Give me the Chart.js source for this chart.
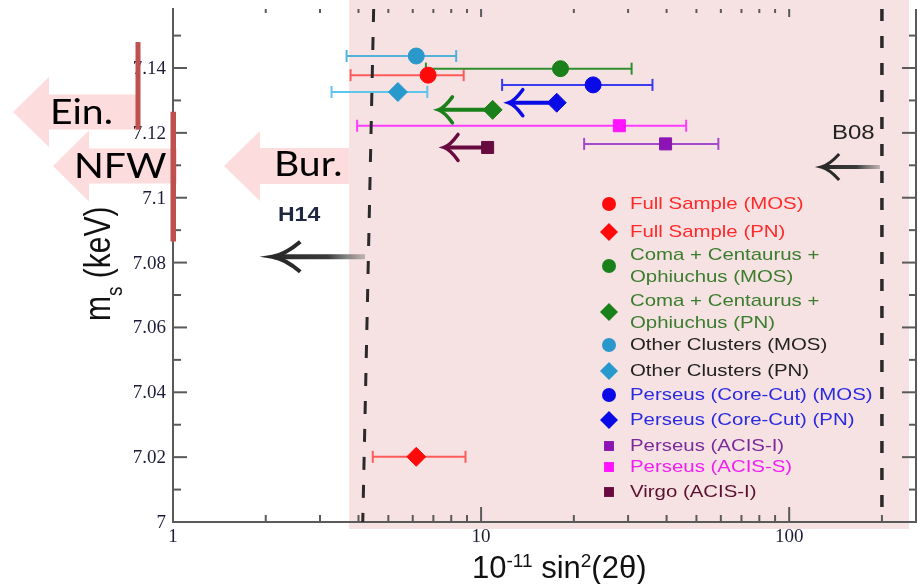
<!DOCTYPE html>
<html>
<head>
<meta charset="utf-8">
<script src="https://cdn.jsdelivr.net/npm/chart.js@4.4.1/dist/chart.umd.min.js"></script>
<style>
  html, body { margin: 0; padding: 0; background: #fff; }
  canvas { display: block; }
</style>
</head>
<body>
<canvas id="chart" width="918" height="584"></canvas>
<script>
// data
const series = [
    'Full Sample (MOS)', 'Full Sample (PN)',
    'Coma + Centaurus +\nOphiuchus (MOS)', 'Coma + Centaurus +\nOphiuchus (PN)',
    'Other Clusters (MOS)', 'Other Clusters (PN)',
    'Perseus (Core-Cut) (MOS)', 'Perseus (Core-Cut) (PN)',
    'Perseus (ACIS-I)', 'Perseus (ACIS-S)', 'Virgo (ACIS-I)'
];
const mixing     = [6.73, 6.16, 18.1, 10.9, 6.16, 5.37, 23.1, 17.6, 39.7, 28.1, 10.5];
const mixingLow  = [3.77, 4.45, 6.62, null, 3.66, 3.27, 11.7, null, 21.6, 3.96, null];
const mixingHigh = [8.78, 8.90, 30.8, null, 8.30, 6.69, 36.0, null, 58.9, 46.3, null];
const arrowTo    = [null, null, null, 7.27, null, null, null, 12.3, null, null, 7.58];
const mass       = [7.1378, 7.0201, 7.1398, 7.1271, 7.1437, 7.1326, 7.1348, 7.1293, 7.1166, 7.1222, 7.1155];

const xTickValues = [1, 10, 100];
const xTickLabels = ['1', '10', '100'];
const xMinorTicks = [2, 3, 4, 5, 6, 7, 8, 9, 20, 30, 40, 50, 60, 70, 80, 90, 200];
const yTickValues = [7, 7.02, 7.04, 7.06, 7.08, 7.1, 7.12, 7.14];
const yTickLabels = ['7', '7.02', '7.04', '7.06', '7.08', '7.1', '7.12', '7.14'];
const yMinorTicks = [7.01, 7.03, 7.05, 7.07, 7.09, 7.11, 7.13, 7.15];

const xMin = 1, xMax = 258, yMin = 7, yMax = 7.1582;
const pinkFrom = 3.73, pinkTo = 245;
const h14Line = [4.48, 4.13];          // x at top, x at bottom
const b08Line = 200;
const h14Arrow = [4.2, 2.1, 7.0818];   // from, to, mass
const b08Arrow = [197, 127, 7.1095];
const einRange = [7.121, 7.148];
const nfwRange = [7.0865, 7.1265];

// styles
const markerStyle = ['circle', 'rectRot', 'circle', 'rectRot', 'circle', 'rectRot', 'circle', 'rectRot', 'rect', 'rect', 'rect'];
const markerColor = ['#ff0a0a', '#ff0a0a', '#1a801a', '#1a801a', '#2b98cc', '#2899cc', '#0a0ae6', '#0a0ae6', '#8c14b4', '#ff14ff', '#680a40'];
const barColor    = ['#ff5a5a', '#ff5a5a', '#2e8f2e', '#2e8f2e', '#52b2dc', '#5ec4ec', '#3a3aee', '#3a3aee', '#a448cc', '#ff3cff', '#680a40'];
const textColor   = ['#ff2a2a', '#ff2a2a', '#3a7d2c', '#3a7d2c', '#222222', '#222222', '#2a2ae0', '#2a2ae0', '#7a2a9a', '#f020f0', '#5a1030'];
const markerRadius = { circle: 8, rectRot: 9.5, rect: 8.5 };
const legendRadius = { circle: 7, rectRot: 9, rect: 7 };
const legendRowY = [204, 232, 266, 312, 345, 371, 395, 420, 446, 467, 492];
const tickFont = '19px "Liberation Serif", "DejaVu Serif", serif';

function line(ctx, x0, y0, x1, y1) {
    ctx.beginPath(); ctx.moveTo(x0, y0); ctx.lineTo(x1, y1); ctx.stroke();
}

function stretchText(ctx, text, x, y, sx) {
    ctx.save();
    ctx.translate(x, y);
    ctx.scale(sx, 1);
    ctx.fillText(text, 0, 0);
    ctx.restore();
}

function drawMarker(ctx, style, x, y, r, color) {
    ctx.fillStyle = color;
    ctx.beginPath();
    if (style === 'circle') {
        ctx.arc(x, y, r, 0, Math.PI * 2);
    } else if (style === 'rectRot') {
        ctx.moveTo(x - r, y); ctx.lineTo(x, y - r); ctx.lineTo(x + r, y); ctx.lineTo(x, y + r); ctx.closePath();
    } else {
        const s = r * Math.SQRT1_2;
        ctx.rect(x - s, y - s, 2 * s, 2 * s);
    }
    ctx.fill();
}

function blockArrow(ctx, tip, mid, headBase, headHalf, bodyHalf, tail) {
    ctx.beginPath();
    ctx.moveTo(tip, mid);
    ctx.lineTo(headBase, mid - headHalf);
    ctx.lineTo(headBase, mid - bodyHalf);
    ctx.lineTo(tail, mid - bodyHalf);
    ctx.lineTo(tail, mid + bodyHalf);
    ctx.lineTo(headBase, mid + bodyHalf);
    ctx.lineTo(headBase, mid + headHalf);
    ctx.closePath();
    ctx.fill();
}

function grayArrow(ctx, x0, x1, py, head, half, width) {
    const g = ctx.createLinearGradient(x1, 0, x0, 0);
    g.addColorStop(0, '#2a2a2a');
    g.addColorStop(0.6, '#3a3a3a');
    g.addColorStop(1, 'rgba(90,90,90,0.35)');
    ctx.strokeStyle = g;
    ctx.lineWidth = width;
    line(ctx, x0, py, x1 + 2, py);
    ctx.strokeStyle = '#2a2a2a';
    ctx.lineWidth = width - 1;
    ctx.beginPath();
    ctx.moveTo(x1 + head, py - half);
    ctx.quadraticCurveTo(x1 + head * 0.45, py - 2, x1, py);
    ctx.quadraticCurveTo(x1 + head * 0.45, py + 2, x1 + head, py + half);
    ctx.stroke();
}

const overlay = {
    id: 'overlay',
    beforeDraw(chart) {
        const { ctx, chartArea: a, scales: { x } } = chart;
        ctx.save();
        ctx.fillStyle = '#ffffff';
        ctx.fillRect(0, 0, chart.width, chart.height);
        const p0 = x.getPixelForValue(pinkFrom), p1 = x.getPixelForValue(pinkTo);
        ctx.fillStyle = '#f7e2e3';
        ctx.fillRect(p0, 0, p1 - p0, a.bottom + 7);
        ctx.fillStyle = '#fcdcdc';
        blockArrow(ctx, 13, 112, 49, 35, 17.5, 138);
        blockArrow(ctx, 53, 166, 89, 35.5, 17.5, 177);
        blockArrow(ctx, 224, 166, 260, 35, 18, p0);
        ctx.restore();
    },
    beforeDatasetsDraw(chart) {
        const { ctx, chartArea: a, scales: { x, y } } = chart;
        ctx.save();
        // ticks on all sides, pointing inwards
        ctx.strokeStyle = '#5a5a5a';
        ctx.lineWidth = 2;
        line(ctx, a.right, a.top, a.right, a.bottom + 1);
        yTickValues.forEach(v => {
            const py = y.getPixelForValue(v);
            line(ctx, a.left, py, a.left + 14, py);
            line(ctx, a.right, py, a.right - 14, py);
        });
        yMinorTicks.forEach(v => {
            const py = y.getPixelForValue(v);
            line(ctx, a.left, py, a.left + 8, py);
            line(ctx, a.right, py, a.right - 7, py);
        });
        xTickValues.forEach(v => {
            const px = x.getPixelForValue(v);
            line(ctx, px, a.bottom, px, a.bottom - 15);
            line(ctx, px, a.top, px, a.top + 8);
        });
        xMinorTicks.forEach(v => {
            const px = x.getPixelForValue(v);
            line(ctx, px, a.bottom, px, a.bottom - 7);
            line(ctx, px, a.top, px, a.top + 4);
        });

        // tick labels
        ctx.fillStyle = '#1c1c38';
        ctx.font = tickFont;
        ctx.textAlign = 'right';
        ctx.textBaseline = 'middle';
        yTickValues.forEach((v, i) => ctx.fillText(yTickLabels[i], a.left - 7, y.getPixelForValue(v) + 1));
        ctx.textAlign = 'center';
        ctx.textBaseline = 'top';
        xTickValues.forEach((v, i) => ctx.fillText(xTickLabels[i], x.getPixelForValue(v), a.bottom + 6));

        // horizontal error bars
        ctx.lineWidth = 2;
        series.forEach((s, i) => {
            if (mixingLow[i] === null) return;
            const py = y.getPixelForValue(mass[i]);
            const x0 = x.getPixelForValue(mixingLow[i]);
            const x1 = x.getPixelForValue(mixingHigh[i]);
            ctx.strokeStyle = barColor[i];
            line(ctx, x0, py, x1, py);
            line(ctx, x0, py - 6, x0, py + 6);
            line(ctx, x1, py - 6, x1, py + 6);
        });

        // upper limits
        ctx.lineWidth = 4;
        ctx.lineCap = 'round';
        series.forEach((s, i) => {
            if (arrowTo[i] === null) return;
            const py = y.getPixelForValue(mass[i]);
            const px = x.getPixelForValue(mixing[i]);
            const tip = x.getPixelForValue(arrowTo[i]);
            ctx.strokeStyle = markerColor[i];
            line(ctx, px, py, tip + 2, py);
            ctx.lineWidth = 3.5;
            ctx.beginPath();
            ctx.moveTo(tip + 14, py - 13);
            ctx.quadraticCurveTo(tip + 6, py - 2, tip, py);
            ctx.quadraticCurveTo(tip + 6, py + 2, tip + 14, py + 13);
            ctx.stroke();
            ctx.lineWidth = 4;
        });
        ctx.lineCap = 'butt';

        // H14 and B08 arrows
        grayArrow(ctx, x.getPixelForValue(h14Arrow[0]), x.getPixelForValue(h14Arrow[1]),
            y.getPixelForValue(h14Arrow[2]), 28, 15, 5);
        grayArrow(ctx, x.getPixelForValue(b08Arrow[0]), x.getPixelForValue(b08Arrow[1]),
            y.getPixelForValue(b08Arrow[2]), 18, 13, 4);
        ctx.restore();
    },
    afterDraw(chart) {
        const { ctx, chartArea: a, scales: { x, y } } = chart;
        ctx.save();

        // legend inside the plot
        ctx.font = '17px "Liberation Sans", Arial, sans-serif';
        ctx.textBaseline = 'middle';
        ctx.textAlign = 'left';
        series.forEach((s, i) => {
            const rowY = legendRowY[i];
            const st = markerStyle[i];
            drawMarker(ctx, st, 609, rowY, legendRadius[st], markerColor[i]);
            ctx.fillStyle = textColor[i];
            const lines = s.split('\n');
            if (lines.length === 1) {
                stretchText(ctx, lines[0], 630, rowY, 1.2);
            } else {
                stretchText(ctx, lines[0], 630, rowY - 11, 1.2);
                stretchText(ctx, lines[1], 630, rowY + 11, 1.2);
            }
        });

        // H14 / B08 labels
        ctx.fillStyle = '#1e2840';
        ctx.font = 'bold 20px "Liberation Sans", Arial, sans-serif';
        stretchText(ctx, 'H14', 278, 215, 1.15);
        ctx.font = '20px "Liberation Sans", Arial, sans-serif';
        ctx.fillStyle = '#222';
        stretchText(ctx, 'B08', 832, 133, 1.2);

        // profile bars
        ctx.fillStyle = '#c0504d';
        const e0 = y.getPixelForValue(einRange[1]), e1 = y.getPixelForValue(einRange[0]);
        ctx.fillRect(135.5, e0, 5, e1 - e0);
        const n0 = y.getPixelForValue(nfwRange[1]), n1 = y.getPixelForValue(nfwRange[0]);
        ctx.fillRect(170.5, n0, 5.5, n1 - n0);

        // profile labels
        ctx.fillStyle = '#000';
        ctx.textBaseline = 'alphabetic';
        ctx.font = '34px Lato, "Noto Sans", sans-serif';
        stretchText(ctx, 'Ein.', 50, 124, 1.15);
        stretchText(ctx, 'NFW', 74, 178, 1.15);
        stretchText(ctx, 'Bur.', 274, 176, 1.15);

        // y title, rotated
        ctx.fillStyle = '#111';
        ctx.save();
        ctx.translate(110, 321);
        ctx.scale(1.2, 1);
        ctx.rotate(-Math.PI / 2);
        ctx.font = '30px "Liberation Sans", Arial, sans-serif';
        ctx.fillText('m', 0, 0);
        let w = ctx.measureText('m').width;
        ctx.font = '19px "Liberation Sans", Arial, sans-serif';
        ctx.fillText('s', w, 10);
        w += ctx.measureText('s').width;
        ctx.font = '30px "Liberation Sans", Arial, sans-serif';
        ctx.fillText(' (keV)', w, 0);
        ctx.restore();

        // x title with superscripts
        const big = '31px "Liberation Sans", Arial, sans-serif';
        const small = '19px "Liberation Sans", Arial, sans-serif';
        let tx = 472;
        const parts = [['10', big, 0], ['-11', small, -11], [' sin', big, 0], ['2', small, -11], ['(2\u03b8)', big, 0]];
        parts.forEach(p => {
            ctx.font = p[1];
            ctx.fillText(p[0], tx, 578 + p[2]);
            tx += ctx.measureText(p[0]).width;
        });
        ctx.restore();
    }
};

const datasets = series.map((s, i) => ({
    label: s.replace('\n', ' '),
    data: [{ x: mixing[i], y: mass[i] }],
    pointStyle: markerStyle[i],
    pointRadius: markerRadius[markerStyle[i]],
    backgroundColor: markerColor[i],
    borderColor: markerColor[i],
    borderWidth: 1,
    order: 1
}));
datasets.push({
    label: 'H14',
    data: [{ x: h14Line[0], y: yMax }, { x: h14Line[1], y: yMin }],
    showLine: true, pointRadius: 0,
    borderColor: '#2a2a2a', borderWidth: 3, borderDash: [13, 15],
    order: 5
});
datasets.push({
    label: 'B08',
    data: [{ x: b08Line, y: yMax }, { x: b08Line, y: yMin }],
    showLine: true, pointRadius: 0,
    borderColor: '#2a2a2a', borderWidth: 3.5, borderDash: [12, 15],
    order: 5
});

new Chart(document.getElementById('chart'), {
    type: 'scatter',
    data: { datasets: datasets },
    options: {
        responsive: false,
        animation: false,
        layout: { autoPadding: false, padding: { top: 9, right: 2, left: 0, bottom: 0 } },
        plugins: { legend: { display: false }, tooltip: { enabled: false } },
        scales: {
            x: {
                type: 'logarithmic',
                min: xMin, max: xMax,
                border: { display: true, color: '#5a5a5a', width: 2 },
                grid: { display: false, drawTicks: false },
                ticks: { display: false },
                afterBuildTicks: s => { s.ticks = xTickValues.map(v => ({ value: v })); },
                afterFit: s => { s.height = 62; }
            },
            y: {
                min: yMin, max: yMax,
                border: { display: true, color: '#5a5a5a', width: 2 },
                grid: { display: false, drawTicks: false },
                ticks: { display: false },
                afterBuildTicks: s => { s.ticks = yTickValues.map(v => ({ value: v })); },
                afterFit: s => { s.width = 173; }
            }
        }
    },
    plugins: [overlay]
});
</script>
</body>
</html>
